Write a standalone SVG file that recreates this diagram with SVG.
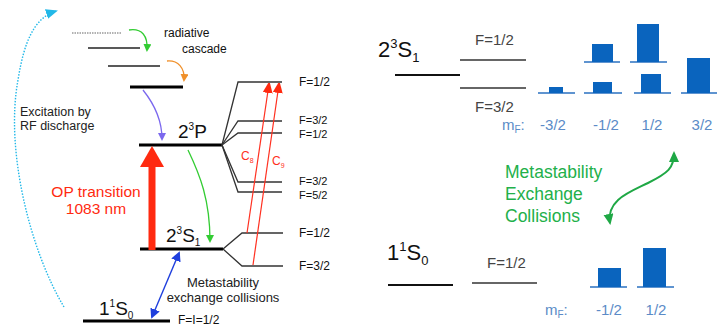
<svg xmlns="http://www.w3.org/2000/svg" width="719" height="327" viewBox="0 0 719 327">
<style>
text{font-family:"Liberation Sans",Arial,sans-serif}
.lv{stroke:#000;stroke-width:3;fill:none}
.th{stroke:#222;stroke-width:1.3;fill:none}
.hf{stroke:#333;stroke-width:1.3;fill:none}
.lbl{font-size:12px;fill:#111}
.sl{font-size:11px;fill:#111}
.big{font-size:19px;fill:#111}
.rlv{stroke:#111;stroke-width:2.2}
.rhf{stroke:#333;stroke-width:1.5}
.fl{font-size:15px;fill:#444}
.mf{font-size:15px;fill:#5b8bc7}
.bar{fill:#0a64be}
.bl{stroke:#2a70c0;stroke-width:1.5}
</style>
<defs>
<marker id="mg" markerWidth="8" markerHeight="8" refX="6" refY="4" orient="auto" markerUnits="userSpaceOnUse"><path d="M0,0 L8,4 L0,8 Z" fill="#33cc33"/></marker>
<marker id="mo" markerWidth="8" markerHeight="8" refX="6" refY="4" orient="auto" markerUnits="userSpaceOnUse"><path d="M0,0 L8,4 L0,8 Z" fill="#f0902a"/></marker>
<marker id="mp" markerWidth="8" markerHeight="8" refX="6" refY="4" orient="auto" markerUnits="userSpaceOnUse"><path d="M0,0 L8,4 L0,8 Z" fill="#7b68ee"/></marker>
<marker id="mb" markerWidth="10" markerHeight="10" refX="8" refY="5" orient="auto-start-reverse" markerUnits="userSpaceOnUse"><path d="M0,0 L10,5 L0,10 Z" fill="#1f3fdd"/></marker>
<marker id="mc" markerWidth="12" markerHeight="10" refX="10" refY="5" orient="auto" markerUnits="userSpaceOnUse"><path d="M0,0 L12,5 L0,10 Z" fill="#22b8e8"/></marker>
<marker id="mr" markerWidth="10" markerHeight="12" refX="9" refY="5" orient="auto" markerUnits="userSpaceOnUse"><path d="M0,0 L12,5 L0,10 Z" fill="#ff2a10"/></marker>
<marker id="mgr" markerWidth="12" markerHeight="12" refX="9" refY="5" orient="auto-start-reverse" markerUnits="userSpaceOnUse"><path d="M0,0 L11,5 L0,10 Z" fill="#1fa845"/></marker>
</defs>

<!-- LEFT DIAGRAM -->
<g id="cascade-levels">
<line x1="72" y1="33" x2="122" y2="33" stroke="#999" stroke-width="1.3" stroke-dasharray="1.5,1"/>
<line x1="88" y1="48" x2="140" y2="48" class="th"/>
<line x1="108" y1="66" x2="160" y2="66" class="th"/>
<line x1="130" y1="87" x2="183" y2="87" class="lv"/>
<text class="lbl" x="164" y="37" font-size="12.5">radiative</text>
<text class="lbl" x="182" y="53" font-size="12.5">cascade</text>
</g>

<g id="level-23P">
<line x1="139" y1="145" x2="222" y2="145" class="lv"/>
<text class="big" x="178" y="138">2<tspan font-size="10" dy="-8">3</tspan><tspan dy="8">P</tspan></text>
</g>

<g id="level-23S1">
<line x1="140" y1="249" x2="223" y2="249" class="lv"/>
<text class="big" x="166" y="242">2<tspan font-size="10" dy="-8">3</tspan><tspan dy="8">S</tspan><tspan font-size="10" dy="4">1</tspan></text>
</g>

<g id="level-11S0">
<line x1="83" y1="321" x2="170" y2="321" class="lv"/>
<text class="big" x="99" y="315">1<tspan font-size="10" dy="-8">1</tspan><tspan dy="8">S</tspan><tspan font-size="10" dy="4">0</tspan></text>
<text class="lbl" x="178" y="324">F=I=1/2</text>
</g>

<g id="hyperfine-23P">
<polyline points="222,145 238,82 282,82" class="hf"/>
<polyline points="222,145 238,121 282,121" class="hf"/>
<polyline points="222,145 238,133 282,133" class="hf"/>
<polyline points="222,145 238,182 282,182" class="hf"/>
<polyline points="222,145 238,192 282,192" class="hf"/>
<text class="lbl" x="299" y="86">F=1/2</text>
<text class="sl" x="299" y="124">F=3/2</text>
<text class="sl" x="299" y="138">F=1/2</text>
<text class="sl" x="299" y="185">F=3/2</text>
<text class="sl" x="299" y="199">F=5/2</text>
</g>

<g id="hyperfine-23S1">
<polyline points="223,249 242,233 283,233" class="hf"/>
<polyline points="223,249 242,266 283,266" class="hf"/>
<text class="lbl" x="299" y="237">F=1/2</text>
<text class="lbl" x="299" y="270">F=3/2</text>
</g>

<g id="labels-left">
<text x="20" y="116" font-size="12.5" fill="#222">Excitation by</text>
<text x="20" y="130" font-size="12.5" fill="#222">RF discharge</text>
<text x="96" y="197" font-size="15.5" fill="#ff2a10" text-anchor="middle">OP transition</text>
<text x="96" y="214" font-size="15.5" fill="#ff2a10" text-anchor="middle">1083 nm</text>
<text x="223" y="287" font-size="13" fill="#222" text-anchor="middle">Metastability</text>
<text x="223" y="302" font-size="13" fill="#222" text-anchor="middle">exchange collisions</text>
<text x="241" y="160" font-size="12" fill="#ff3020">C<tspan font-size="7" dy="3">8</tspan></text>
<text x="272" y="165" font-size="12" fill="#ff3020">C<tspan font-size="7" dy="3">9</tspan></text>
</g>

<g id="connectors-left" fill="none">
<path d="M64,307 C30,250 5,150 18,80 C24,42 34,18 56,11" stroke="#22b8e8" stroke-width="1.4" stroke-dasharray="1.5,1.5" marker-end="url(#mc)"/>
<path d="M129,30 C142,28 148,36 147,50" stroke="#33cc33" stroke-width="1.3" marker-end="url(#mg)"/>
<path d="M167,61 C178,60 185,68 184,80" stroke="#f0902a" stroke-width="1.3" marker-end="url(#mo)"/>
<path d="M143,90 C155,105 162,120 162,139" stroke="#7b68ee" stroke-width="1.3" marker-end="url(#mp)"/>
<path d="M188,150 C200,175 210,200 210,241" stroke="#33cc33" stroke-width="1.3" marker-end="url(#mg)"/>
<path d="M179,253 L152,317" stroke="#1f3fdd" stroke-width="1.4" marker-start="url(#mb)" marker-end="url(#mb)"/>
<path d="M247,233 L269,84" stroke="#ff3020" stroke-width="1.2" marker-end="url(#mr)"/>
<path d="M253,265 L279,84" stroke="#ff3020" stroke-width="1.2" marker-end="url(#mr)"/>
<rect x="148.5" y="164" width="7" height="86" fill="#ff2a10"/>
<polygon points="152,146 140,167 164,167" fill="#ff2a10"/>
</g>

<!-- RIGHT DIAGRAM -->
<g id="r-23S1">
<text x="378" y="57" font-size="22" fill="#111">2<tspan font-size="13" dy="-9">3</tspan><tspan dy="9">S</tspan><tspan font-size="13" dy="5">1</tspan></text>
<line x1="395" y1="75" x2="460" y2="75" class="rlv"/>
<line x1="460" y1="60" x2="526" y2="60" class="rhf"/>
<line x1="460" y1="88" x2="526" y2="88" class="rhf"/>
<text class="fl" x="475" y="45">F=1/2</text>
<text class="fl" x="475" y="112">F=3/2</text>
</g>

<g id="r-bars-top">
<line x1="538" y1="93" x2="575" y2="93" class="bl"/>
<rect class="bar" x="549" y="87" width="14" height="6"/>
<line x1="584" y1="93" x2="622" y2="93" class="bl"/>
<rect class="bar" x="593" y="82" width="19" height="11"/>
<line x1="584" y1="62" x2="620" y2="62" class="bl"/>
<rect class="bar" x="592" y="44" width="21" height="18"/>
<line x1="634" y1="93" x2="671" y2="93" class="bl"/>
<rect class="bar" x="641" y="74" width="20" height="19"/>
<line x1="630" y1="62" x2="667" y2="62" class="bl"/>
<rect class="bar" x="637" y="24" width="22" height="38"/>
<line x1="681" y1="93" x2="717" y2="93" class="bl"/>
<rect class="bar" x="687" y="58" width="23" height="35"/>
<text class="mf" x="502" y="130">m<tspan font-size="10" dy="3">F</tspan><tspan dy="-3">:</tspan></text>
<text class="mf" x="553" y="130" text-anchor="middle">-3/2</text>
<text class="mf" x="606" y="130" text-anchor="middle">-1/2</text>
<text class="mf" x="652" y="130" text-anchor="middle">1/2</text>
<text class="mf" x="702" y="130" text-anchor="middle">3/2</text>
</g>

<g id="r-mec">
<text x="505" y="178" font-size="17.5" fill="#22b04a">Metastability</text>
<text x="505" y="200" font-size="17.5" fill="#22b04a">Exchange</text>
<text x="505" y="222" font-size="17.5" fill="#22b04a">Collisions</text>
</g>

<g id="r-11S0">
<text x="387" y="260" font-size="22" fill="#111">1<tspan font-size="13" dy="-9">1</tspan><tspan dy="9">S</tspan><tspan font-size="13" dy="5">0</tspan></text>
<line x1="388" y1="285" x2="453" y2="285" class="rlv"/>
<line x1="472" y1="283" x2="537" y2="283" class="rhf"/>
<text class="fl" x="487" y="268">F=1/2</text>
</g>

<g id="r-bars-bottom">
<line x1="590" y1="287" x2="627" y2="287" class="bl"/>
<rect class="bar" x="598" y="268" width="23" height="19"/>
<line x1="637" y1="287" x2="674" y2="287" class="bl"/>
<rect class="bar" x="643" y="248" width="23" height="39"/>
<text class="mf" x="545" y="315">m<tspan font-size="10" dy="3">F</tspan><tspan dy="-3">:</tspan></text>
<text class="mf" x="609" y="315" text-anchor="middle">-1/2</text>
<text class="mf" x="656" y="315" text-anchor="middle">1/2</text>
</g>

<g id="connectors-right" fill="none">
<path d="M610,223 C606,200 630,192 648,183 C668,173 674,168 674,153" stroke="#1fa845" stroke-width="2" marker-start="url(#mgr)" marker-end="url(#mgr)"/>
</g>
</svg>
